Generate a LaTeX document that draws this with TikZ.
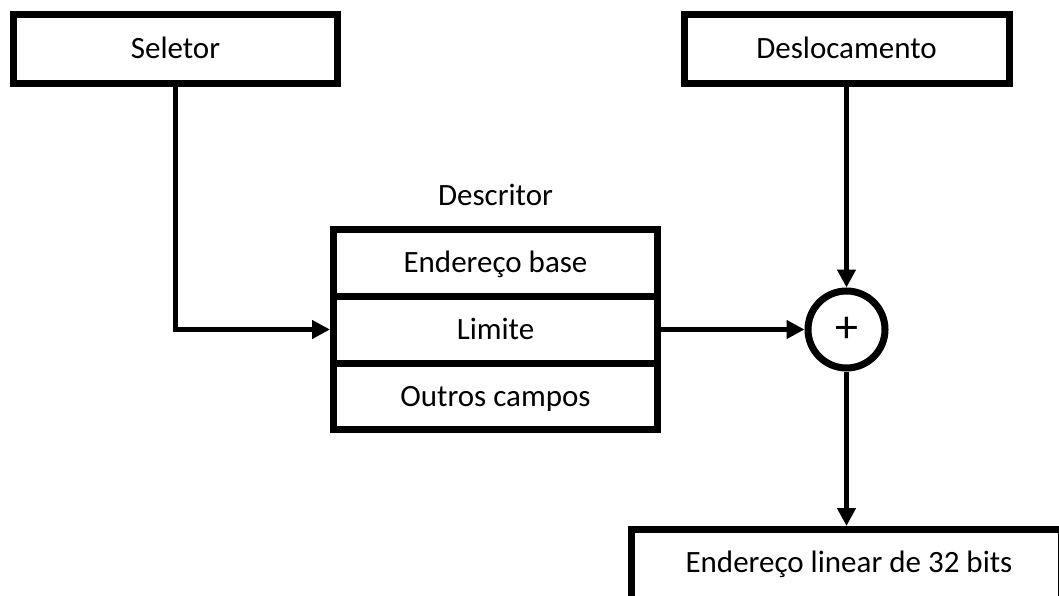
\documentclass[tikz,border=0pt]{standalone}
\usepackage{fontspec}
\setmainfont{Carlito}
\usetikzlibrary{arrows.meta}
\begin{document}
\begin{tikzpicture}[x=1pt,y=-1pt,
  box/.style={draw=black,line width=7pt,fill=white,inner sep=0pt,
    text height=20pt,text depth=0pt,font=\fontsize{31pt}{37pt}\selectfont},
  lbl/.style={inner sep=0pt,font=\fontsize{31pt}{37pt}\selectfont},
  conn/.style={line width=5pt,-{Triangle[length=18pt,width=18pt]}}]
\useasboundingbox (0,0) rectangle (1059,596);
\begin{scope}
\clip (0,0) rectangle (1059,596);
\node[box,minimum width=324pt,minimum height=69pt] (sel) at (175.5,49) {Seletor};
\node[box,minimum width=325pt,minimum height=69pt] (des) at (846.5,49) {Deslocamento};
\node[box,minimum width=324pt,minimum height=67pt] (base) at (495.5,262.5) {Endereço base};
\node[box,minimum width=324pt,minimum height=67pt] (lim) at (495.5,329.5) {Limite};
\node[box,minimum width=324pt,minimum height=66.5pt] (out) at (495.5,396.25) {Outros campos};
\node[lbl,anchor=base] (descr) at (495.5,205) {Descritor};
\node[circle,draw=black,line width=7pt,fill=white,minimum size=77pt,inner sep=0pt] (sum) at (846.5,329.5) {};
\node[inner sep=0pt,font=\fontsize{46pt}{50pt}\selectfont] (plus) at (sum.center) {+};
\node[box,minimum width=430pt,minimum height=72pt] (lin) at (846.5,565.5) {};
\node[lbl,anchor=base] (lintxt) at (849,572) {Endereço linear de 32 bits};
\end{scope}
\coordinate (corner) at (sel.south |- lim.west);
\draw[conn] (sel.south) -- (corner) -- (lim.west);
\draw[conn] (lim.east) -- (sum.west);
\draw[conn] (des.south) -- (sum.north);
\draw[conn] (sum.south) -- (lin.north);
\end{tikzpicture}
\end{document}
